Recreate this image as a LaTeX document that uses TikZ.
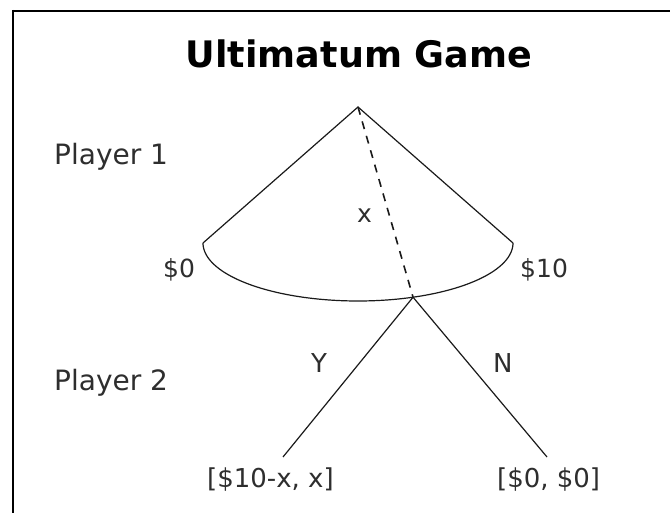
\documentclass[tikz,border=0pt]{standalone}
\usepackage{fontspec}
\setmainfont{DejaVu Sans}
\definecolor{txt}{HTML}{2E2E2E}
\definecolor{ln}{HTML}{1A1A1A}
\tikzset{
  lbl/.style={anchor=base west, inner sep=0pt, text=txt, font=\fontsize{#1}{#1}\selectfont},
  edge/.style={draw=ln, line width=1.2pt},
  dashedge/.style={draw=ln, line width=1.6pt, dash pattern=on 8pt off 7pt},
  frame/.style={draw=black, line width=2.5pt}
}
\begin{document}
\begin{tikzpicture}[x=1pt,y=-1pt]
\useasboundingbox (0,0) rectangle (670,513);
\fill[white] (0,0) rectangle (670,513);
% frame (top and left)
\draw[frame] (13,11) -- (670,11);
\draw[frame] (13,10) -- (13,513);
% title
\node[anchor=base, inner sep=0pt, text=black, font=\fontsize{36.5}{36.5}\bfseries] (title) at (359,68) {Ultimatum Game};
% points
\coordinate (apex) at (358,107);
\coordinate (l0) at (203,243);
\coordinate (r10) at (513,243);
\coordinate (meet) at ({358+155*cos(69.2)},{243+58*sin(69.2)});
\coordinate (yend) at (283,457);
\coordinate (nend) at (547,457);
% cone
\draw[edge] (l0) -- (apex) -- (r10);
\draw[edge] plot[domain=0:180, samples=90, smooth] ({358+155*cos(\x)},{243+58*sin(\x)});
\draw[dashedge] (apex) -- (meet);
% player 2 branches
\draw[edge] (meet) -- (yend);
\draw[edge] (meet) -- (nend);
% labels
\node[lbl=28] (p1) at (54,165) {Player 1};
\node[lbl=28] (p2) at (54,391) {Player 2};
\node[lbl=25] (zero) at (163,278) {\$0};
\node[lbl=25] (ten) at (520,278) {\$10};
\node[lbl=25] (xl) at (357,223) {x};
\node[lbl=26] (yl) at (311,373) {Y};
\node[lbl=26] (nl) at (493,373) {N};
\node[lbl=26] (yout) at (207,487) {[\$10-x, x]};
\node[lbl=26] (nout) at (497,487) {[\$0, \$0]};
\end{tikzpicture}
\end{document}
